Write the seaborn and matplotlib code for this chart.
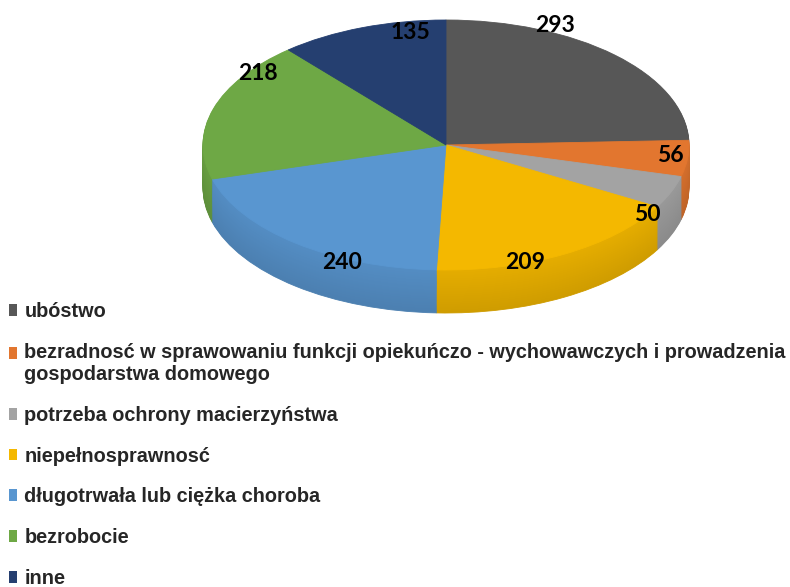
import numpy as np
import matplotlib
matplotlib.use("Agg")
import matplotlib.pyplot as plt
import matplotlib.patches as mpatches
from matplotlib.legend_handler import HandlerPatch
import seaborn as sns

# --- data ---
categories = [
    "ubóstwo",
    "bezradnosć w sprawowaniu funkcji opiekuńczo - wychowawczych i prowadzenia\ngospodarstwa domowego",
    "potrzeba ochrony macierzyństwa",
    "niepełnosprawnosć",
    "długotrwała lub ciężka choroba",
    "bezrobocie",
    "inne",
]
values = [293, 56, 50, 209, 240, 218, 135]
colors = ["#575757", "#E2762F", "#A3A3A3", "#F4B800", "#5996D0", "#6EA845", "#253F70"]

sns.set_theme(style="white")
plt.rcParams["font.family"] = ["Liberation Sans", "DejaVu Sans"]

W, H = 790, 587
fig = plt.figure(figsize=(W / 100, H / 100), dpi=100)
ax = fig.add_axes([0, 0, 1, 1])

# ellipse geometry in pixels (3d look: squashed pie + extruded side)
cx, cy = 446, 145
rx, ry = 243, 125
depth = 43 / ry

n_layers = 44
for i in range(n_layers, 0, -1):
    off = depth * i / n_layers
    shade = 0.94 - 0.09 * i / n_layers
    side = [tuple(v * shade for v in matplotlib.colors.to_rgb(c)) for c in colors]
    ws, _ = ax.pie(values, colors=side, startangle=90, counterclock=False,
                   center=(0, -off), radius=1, wedgeprops=dict(linewidth=0.6))
    for w in ws:
        w.set_edgecolor(w.get_facecolor())

wedges, _ = ax.pie(values, colors=colors, startangle=90, counterclock=False,
                   center=(0, 0), radius=1, wedgeprops=dict(linewidth=0.6))
for w in wedges:
    w.set_edgecolor(w.get_facecolor())

# data labels at wedge middles, nudged like Excel's best-fit placement (pixels)
nudge = [(-48, 36), (0, 2), (-8, -26), (-31, -16), (36, -26), (28, 38), (43, 3)]
for w, v, (dx, dy) in zip(wedges, values, nudge):
    mid = np.deg2rad((w.theta1 + w.theta2) / 2)
    ax.annotate(str(v), (0.93 * np.cos(mid), 0.93 * np.sin(mid)),
                xytext=(dx, dy), textcoords="offset pixels",
                ha="center", va="center", fontsize=16.5, fontweight="bold",
                color="black", family=["Lato", "DejaVu Sans"], zorder=10)

ax.set_aspect("auto")
ax.set_xlim(-cx / rx, (W - cx) / rx)
ax.set_ylim(-(H - cy) / ry, cy / ry)
ax.axis("off")


def first_line_square(legend, orig_handle, xdescent, ydescent, width, height, fontsize):
    # marker sits next to the first line of a two-line label
    return mpatches.Rectangle((-xdescent, -ydescent + 0.54 * fontsize), width, height)


handles = [mpatches.Patch(facecolor=c, edgecolor=c, linewidth=0) for c in colors]
hmap = {h: HandlerPatch(patch_func=first_line_square)
        for h, lab in zip(handles, categories) if "\n" in lab}
fs = 14.3
fig.legend(handles, categories, loc="upper left", handler_map=hmap,
           bbox_to_anchor=(9 / W, 1 - 302 / H), frameon=False,
           borderpad=0, borderaxespad=0, handlelength=0.38, handleheight=0.55,
           handletextpad=0.4, labelspacing=1.1,
           prop=dict(size=fs, weight="bold"))

fig.savefig("out.png", dpi=100, facecolor="white")
